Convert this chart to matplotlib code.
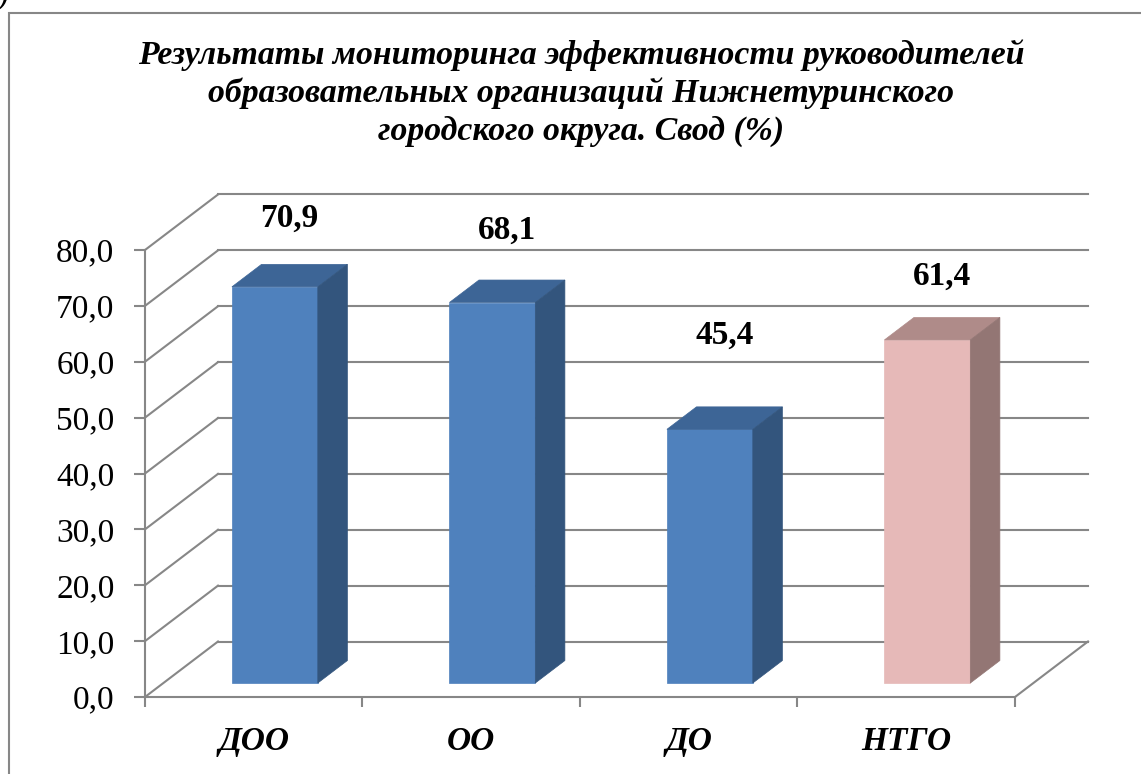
import matplotlib
matplotlib.use("Agg")
import matplotlib.pyplot as plt
from matplotlib.patches import Rectangle

# =========================
# DATA
# =========================
categories = ["ДОО", "ОО", "ДО", "НТГО"]
values = [70.9, 68.1, 45.4, 61.4]
y_ticks = [0, 10, 20, 30, 40, 50, 60, 70, 80]
title_lines = [
    "Результаты мониторинга эффективности руководителей",
    "образовательных организаций Нижнетуринского",
    "городского округа. Свод (%)",
]

# =========================
# STYLE / LAYOUT
# =========================
W, H = 1141, 774
X0_PX, XUNIT = 145, 217.5      # front floor left edge, px per category
Y0_PX, YUNIT = 697, 5.5875     # front floor line, px per value unit

OX, OY = 73 / XUNIT, 55.5 / YUNIT   # full depth of the 3d box in data units
D0, D1 = 0.252, 0.657               # bar front / back depth
BAR_LEFT, BAR_W = 0.315, 0.395

GRID = "#878787"
front_cols = ["#4F81BD", "#4F81BD", "#4F81BD", "#E6B9B8"]
top_cols = ["#3D6596", "#3D6596", "#3D6596", "#AF8B89"]
side_cols = ["#33557D", "#33557D", "#33557D", "#937674"]
label_lift = [13.2, 13.9, 17.8, 12.3]

plt.rcParams["font.family"] = ["Liberation Serif", "DejaVu Serif"]

fig = plt.figure(figsize=(W / 100, H / 100), dpi=100)
ax = fig.add_axes([0, 0, 1, 1])
ax.set_xlim(-X0_PX / XUNIT, (W - X0_PX) / XUNIT)
ax.set_ylim(-(H - Y0_PX) / YUNIT, Y0_PX / YUNIT)
ax.patch.set_alpha(0)

# back wall + left wall lines
for v in y_ticks:
    ax.plot([OX, len(categories) + OX], [v + OY, v + OY], color=GRID, lw=1.5, zorder=1)
    ax.plot([0, OX], [v, v + OY], color=GRID, lw=1.5, zorder=1)
ax.plot([len(categories), len(categories) + OX], [0, OY], color=GRID, lw=1.5, zorder=1)

# =========================
# 3D BARS
# =========================
for i, val in enumerate(values):
    xa = i + BAR_LEFT + D0 * OX
    ya = D0 * OY
    dx = (D1 - D0) * OX
    dy = (D1 - D0) * OY
    front = [(xa, ya), (xa + BAR_W, ya), (xa + BAR_W, ya + val), (xa, ya + val)]
    top = [(xa, ya + val), (xa + BAR_W, ya + val),
           (xa + BAR_W + dx, ya + val + dy), (xa + dx, ya + val + dy)]
    side = [(xa + BAR_W, ya), (xa + BAR_W + dx, ya + dy),
            (xa + BAR_W + dx, ya + val + dy), (xa + BAR_W, ya + val)]
    for poly, c in [(front, front_cols[i]), (top, top_cols[i]), (side, side_cols[i])]:
        xs, ys = zip(*poly)
        ax.fill(xs, ys, color=c, lw=0.5, ec=c, zorder=3)

    # value label
    ax.text(xa + BAR_W / 2 + dx / 2, val + label_lift[i],
            f"{val:.1f}".replace(".", ","), ha="center", va="baseline",
            fontsize=24, fontweight="bold", zorder=4)

# category labels
for i, name in enumerate(categories):
    ax.text(i + 0.5, -(750 - Y0_PX) / YUNIT, name, ha="center", va="baseline",
            fontsize=24, fontweight="bold", fontstyle="italic")

# =========================
# AXES
# =========================
for s in ["top", "right"]:
    ax.spines[s].set_visible(False)
ax.spines["left"].set_position(("data", 0))
ax.spines["bottom"].set_position(("data", 0))
ax.spines["left"].set_bounds(0, 80)
ax.spines["bottom"].set_bounds(0, len(categories))
for s in ["left", "bottom"]:
    ax.spines[s].set_color(GRID)
    ax.spines[s].set_linewidth(1.5)

ax.set_yticks(y_ticks, labels=[f"{v:.1f}".replace(".", ",") for v in y_ticks])
ax.set_xticks(range(len(categories) + 1), labels=[])
ax.tick_params(axis="y", length=8, width=1.5, color=GRID, pad=14, labelsize=24)
ax.tick_params(axis="x", length=7, width=1.5, color=GRID)

# =========================
# TITLE + FRAME
# =========================
for k, line in enumerate(title_lines):
    fig.text(581 / W, 1 - (64 + 38 * k) / H, line, ha="center", va="baseline",
             fontsize=24.3, fontweight="bold", fontstyle="italic")

fig.add_artist(Rectangle((9 / W, -0.1), 1.2, 1.1 - 13 / H, transform=fig.transFigure,
                         fill=False, ec=GRID, lw=1.5))
fig.text(-2 / W, 1 - 4 / H, ")", ha="left", va="baseline", fontsize=24,
         fontstyle="italic")

fig.savefig("out.png", dpi=100)
